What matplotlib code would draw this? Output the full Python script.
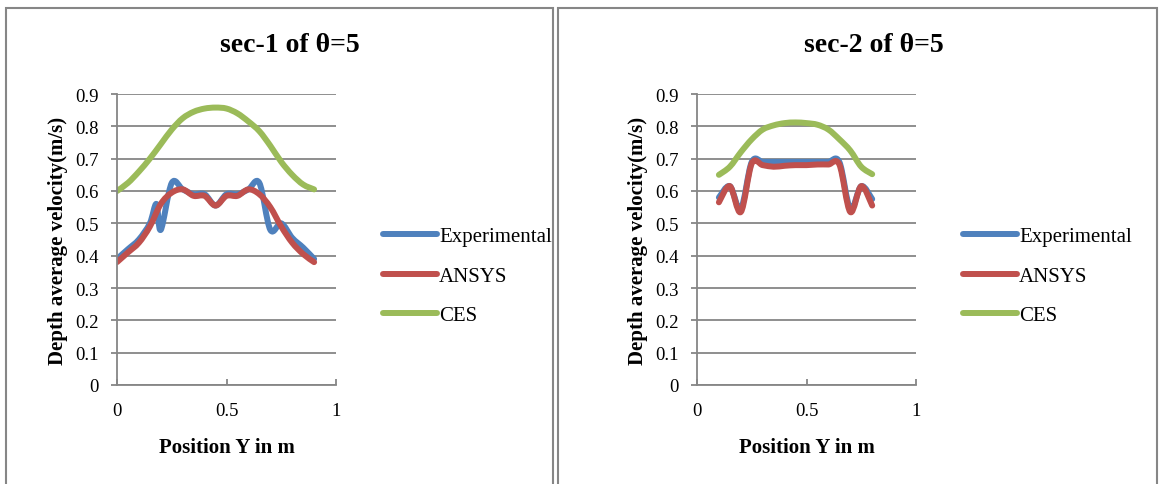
import matplotlib
matplotlib.use('Agg')
import matplotlib.pyplot as plt
from matplotlib.patches import Rectangle, PathPatch
from matplotlib.path import Path
from matplotlib.lines import Line2D

plt.rcParams['font.family'] = ['Liberation Serif', 'DejaVu Serif']

#Data - sec-1
x_exp1 = [0, 0.05, 0.1, 0.15, 0.18, 0.2, 0.25, 0.3, 0.35, 0.4, 0.45, 0.5, 0.55, 0.6, 0.65, 0.7, 0.75, 0.8, 0.85, 0.9]
exp1 = [0.39, 0.42, 0.45, 0.5, 0.56, 0.48, 0.625, 0.605, 0.59, 0.59, 0.555, 0.59, 0.59, 0.605, 0.625, 0.48, 0.5, 0.455, 0.425, 0.39]
x_sec1 = [0, 0.05, 0.1, 0.15, 0.2, 0.25, 0.3, 0.35, 0.4, 0.45, 0.5, 0.55, 0.6, 0.65, 0.7, 0.75, 0.8, 0.85, 0.9]
ans1 = [0.38, 0.41, 0.44, 0.49, 0.56, 0.595, 0.605, 0.585, 0.585, 0.555, 0.585, 0.585, 0.605, 0.59, 0.55, 0.49, 0.44, 0.405, 0.38]
ces1 = [0.6, 0.625, 0.66, 0.7, 0.745, 0.79, 0.825, 0.845, 0.855, 0.858, 0.855, 0.84, 0.815, 0.785, 0.74, 0.69, 0.65, 0.62, 0.605]

#sec-2
x_sec2 = [0.1, 0.15, 0.2, 0.25, 0.3, 0.35, 0.4, 0.45, 0.5, 0.55, 0.6, 0.65, 0.7, 0.75, 0.8]
exp2 = [0.58, 0.615, 0.545, 0.69, 0.69, 0.69, 0.69, 0.69, 0.69, 0.69, 0.69, 0.69, 0.545, 0.615, 0.575]
ans2 = [0.565, 0.615, 0.535, 0.685, 0.68, 0.675, 0.678, 0.68, 0.68, 0.682, 0.682, 0.682, 0.535, 0.615, 0.555]
ces2 = [0.65, 0.675, 0.72, 0.76, 0.79, 0.803, 0.81, 0.812, 0.81, 0.805, 0.79, 0.76, 0.725, 0.675, 0.652]

titles = ['sec-1 of \u03b8=5', 'sec-2 of \u03b8=5']
yticks = [0, 0.1, 0.2, 0.3, 0.4, 0.5, 0.6, 0.7, 0.8, 0.9]
xticks = [0, 0.5, 1]
colors = ['#4F81BD', '#C0504D', '#9BBB59']
labels = ['Experimental', 'ANSYS', 'CES']


def smooth_path(xs, ys):
    #Excel style smoothed line: cubic bezier through every data point
    pts = list(zip(xs, ys))
    verts = [pts[0]]
    codes = [Path.MOVETO]
    n = len(pts)
    for i in range(n - 1):
        p0 = pts[max(i - 1, 0)]
        p1 = pts[i]
        p2 = pts[i + 1]
        p3 = pts[min(i + 2, n - 1)]
        c1 = (p1[0] + (p2[0] - p0[0]) / 6, p1[1] + (p2[1] - p0[1]) / 6)
        c2 = (p2[0] - (p3[0] - p1[0]) / 6, p2[1] - (p3[1] - p1[1]) / 6)
        verts += [c1, c2, p2]
        codes += [Path.CURVE4] * 3
    return Path(verts, codes)


W, H = 1161, 485
fig = plt.figure(figsize=(W / 100, H / 100), dpi=100)

#Frames around each chart
grey = '#868686'
for x0, x1 in [(6, 553), (558, 1157)]:
    fig.patches.append(Rectangle((x0 / W, -0.1), (x1 - x0) / W, (H - 9) / H + 0.1,
                                 transform=fig.transFigure, fill=False,
                                 edgecolor=grey, linewidth=1.5))

panels = [
    (117, 290, [(x_exp1, exp1), (x_sec1, ans1), (x_sec1, ces1)]),
    (697, 874, [(x_sec2, exp2), (x_sec2, ans2), (x_sec2, ces2)]),
]
lw = 4.3

for (left, title_x, series), title in zip(panels, titles):
    ax = fig.add_axes([left / W, (H - 386) / H, 219 / W, 291 / H])
    handles = []
    for (xs, ys), c, lab in zip(series, colors, labels):
        ax.add_patch(PathPatch(smooth_path(xs, ys), fill=False, edgecolor=c,
                               linewidth=lw, joinstyle='round', capstyle='round'))
        handles.append(Line2D([], [], color=c, linewidth=lw, solid_capstyle='round', label=lab))
    ax.set_xlim(0, 1)
    ax.set_ylim(0, 0.9)
    ax.set_yticks(yticks)
    ax.set_yticklabels(['0'] + ['%.1f' % v for v in yticks[1:]])
    ax.set_xticks(xticks)
    ax.set_xticklabels(['0', '0.5', '1'])
    ax.yaxis.grid(True, color=grey, linewidth=1.3)
    ax.set_axisbelow(True)
    ax.spines['right'].set_visible(False)
    ax.spines['top'].set_visible(False)
    ax.spines['left'].set_color(grey)
    ax.spines['bottom'].set_color(grey)
    ax.spines['left'].set_linewidth(1.3)
    ax.spines['bottom'].set_linewidth(1.3)
    ax.tick_params(axis='y', direction='out', length=4, width=1.3, color=grey,
                   labelsize=13.5, pad=9)
    ax.tick_params(axis='x', direction='in', length=4, width=1.3, color=grey,
                   labelsize=13.5, pad=12)
    ax.set_ylabel('Depth average velocity(m/s)', fontsize=15, fontweight='bold', labelpad=5)
    ax.set_xlabel('Position Y in m', fontsize=15, fontweight='bold', labelpad=13)
    fig.text(title_x / W, (H - 46) / H, title, fontsize=20, fontweight='bold',
             ha='center', va='center')
    ax.legend(handles=handles, loc='center left',
              bbox_to_anchor=((left + 266) / W, (H - 277) / H),
              bbox_transform=fig.transFigure, frameon=False, fontsize=15,
              handlelength=2.6, handletextpad=0.1, labelspacing=0.95,
              borderpad=0, borderaxespad=0)

fig.savefig('out.png', dpi=100)
